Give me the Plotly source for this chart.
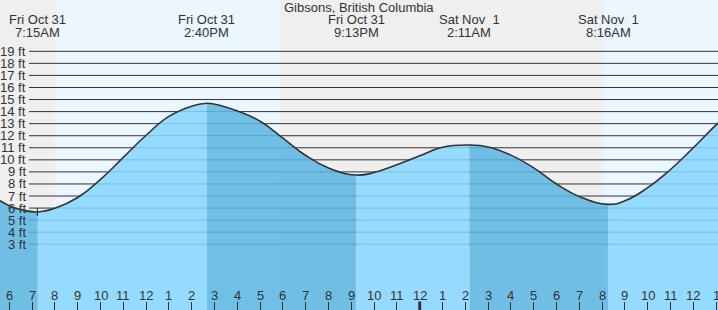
import plotly.graph_objects as go
import pandas as pd

# ---------------- data ----------------
title = "Gibsons, British Columbia"

curve_times = [
    "2025-10-31 05:30", "2025-10-31 06:00", "2025-10-31 06:30", "2025-10-31 07:15",
    "2025-10-31 08:00", "2025-10-31 09:00", "2025-10-31 10:00", "2025-10-31 11:00",
    "2025-10-31 12:00", "2025-10-31 13:00", "2025-10-31 14:00", "2025-10-31 14:40",
    "2025-10-31 15:20", "2025-10-31 16:00", "2025-10-31 17:00", "2025-10-31 18:00",
    "2025-10-31 19:00", "2025-10-31 20:00", "2025-10-31 21:13", "2025-10-31 22:00",
    "2025-10-31 23:00", "2025-11-01 00:00", "2025-11-01 01:00", "2025-11-01 02:11",
    "2025-11-01 03:00", "2025-11-01 04:00", "2025-11-01 05:00", "2025-11-01 06:00",
    "2025-11-01 07:00", "2025-11-01 08:16", "2025-11-01 09:00", "2025-11-01 10:00",
    "2025-11-01 11:00", "2025-11-01 12:00", "2025-11-01 13:00", "2025-11-01 13:30",
]
curve_heights = [
    6.72, 6.2, 5.88, 5.68,
    5.98, 6.88, 8.38, 10.2,
    12.04, 13.6, 14.45, 14.69,
    14.47, 14.05, 13.2, 11.8,
    10.36, 9.33, 8.74, 8.95,
    9.6, 10.33, 11.05, 11.23,
    11.07, 10.39, 9.33, 8.0,
    6.95, 6.31, 6.6, 7.69,
    9.2, 11.0, 12.9, 13.75,
]

extreme_times = ["2025-10-31 07:15", "2025-10-31 14:40", "2025-10-31 21:13",
                 "2025-11-01 02:11", "2025-11-01 08:16"]
extreme_days = ["Fri Oct 31", "Fri Oct 31", "Fri Oct 31", "Sat Nov\u00a0 1", "Sat Nov\u00a0 1"]
extreme_clock = ["7:15AM", "2:40PM", "9:13PM", "2:11AM", "8:16AM"]

daylight_starts = ["2025-10-31 08:00", "2025-11-01 08:02"]
daylight_ends = ["2025-10-31 17:52", "2025-11-01 14:00"]

height_ticks = list(range(3, 20))
height_labels = [f"{v} ft" for v in height_ticks]

hour_ticks = pd.date_range("2025-10-31 06:00", "2025-11-01 13:00", freq="h")
hour_labels = [str(int(h.strftime("%I"))) for h in hour_ticks]

now_time = "2025-10-31 07:14"
midnight = "2025-11-01 00:00"

x_range = ["2025-10-31 05:35:30", "2025-11-01 13:05:00"]
y_range = [-2.451, 23.254]

# ---------------- styling ----------------
W, H = 718, 310
FONT = "Liberation Sans, Arial, sans-serif"
TXT = "#333333"
NIGHT = "#efefef"
DAY = "#ebf6fe"
DARK_FILL = "rgba(92,182,226,0.86)"
LIGHT_FILL = "rgba(135,214,255,0.86)"
SMOOTH = 1.3

t = pd.to_datetime(pd.Series(curve_times))
hgt = pd.Series(curve_heights)

fig = go.Figure()

bounds = [t.iloc[0]] + list(pd.to_datetime(extreme_times)) + [t.iloc[-1]]
for i in range(len(bounds) - 1):
    lo, hi = bounds[i], bounds[i + 1]
    m = (t >= lo) & (t <= hi)
    xs, ys = t[m], hgt[m]
    fig.add_trace(go.Scatter(x=[xs.iloc[0], xs.iloc[-1]], y=[-6, -6], mode="lines",
                             line=dict(width=0), hoverinfo="skip", showlegend=False))
    fig.add_trace(go.Scatter(x=xs, y=ys, mode="lines", fill="tonexty",
                             fillcolor=DARK_FILL if i % 2 == 0 else LIGHT_FILL,
                             line=dict(width=0, shape="spline", smoothing=SMOOTH),
                             hoverinfo="skip", showlegend=False))

fig.add_trace(go.Scatter(x=t, y=hgt, mode="lines",
                         line=dict(color="#333333", width=1.6, shape="spline", smoothing=SMOOTH),
                         hoverinfo="skip", showlegend=False))

shapes = []
for s, e in zip(daylight_starts, daylight_ends):
    shapes.append(dict(type="rect", xref="x", yref="paper", x0=s, x1=e, y0=0, y1=1,
                       fillcolor=DAY, line=dict(width=0), layer="below"))
for v in height_ticks:
    shapes.append(dict(type="line", xref="paper", yref="y", x0=29 / W, x1=1, y0=v, y1=v,
                       line=dict(color="#333333", width=1), layer="below"))
shapes.append(dict(type="line", xref="x", yref="y", x0=now_time, x1=now_time, y0=5.35, y1=6.03,
                   line=dict(color="#333333", width=1.2), layer="above"))
shapes.append(dict(type="line", xref="x", yref="paper", x0=midnight, x1=midnight, y0=0, y1=8.5 / H,
                   line=dict(color="#333333", width=3), layer="above"))

f13 = dict(size=13, color=TXT, family=FONT)
annotations = []
for v, lab in zip(height_ticks, height_labels):
    annotations.append(dict(text=lab, xref="paper", yref="y", x=27.5 / W, y=v, xanchor="right",
                            yanchor="middle", showarrow=False, font=f13))
for xt, d, c in zip(extreme_times, extreme_days, extreme_clock):
    annotations.append(dict(text=d, xref="x", yref="paper", x=xt, y=1 - 20 / H, xanchor="center",
                            yanchor="middle", showarrow=False, font=f13))
    annotations.append(dict(text=c, xref="x", yref="paper", x=xt, y=1 - 32 / H, xanchor="center",
                            yanchor="middle", showarrow=False, font=f13))
for ht, hl in zip(hour_ticks, hour_labels):
    annotations.append(dict(text=hl, xref="x", yref="paper", x=ht, y=14.5 / H, xanchor="center",
                            yanchor="middle", showarrow=False, font=f13))
annotations.append(dict(text=title, xref="paper", yref="paper", x=0.5, y=1 - 7.3 / H, xanchor="center",
                        yanchor="middle", showarrow=False, font=f13))

fig.update_layout(
    width=W, height=H,
    margin=dict(l=0, r=0, t=0, b=0, pad=0),
    paper_bgcolor=NIGHT, plot_bgcolor=NIGHT,
    shapes=shapes, annotations=annotations,
    showlegend=False,
    xaxis=dict(type="date", range=x_range, showgrid=False, zeroline=False,
               tick0="2025-10-31 00:00", dtick=3600000,
               ticks="inside", ticklen=8, tickwidth=1, tickcolor="#333333",
               showticklabels=False, showline=False),
    yaxis=dict(range=y_range, showgrid=False, zeroline=False, showticklabels=False,
               ticks="", showline=False),
)

fig.write_html("out.html")
